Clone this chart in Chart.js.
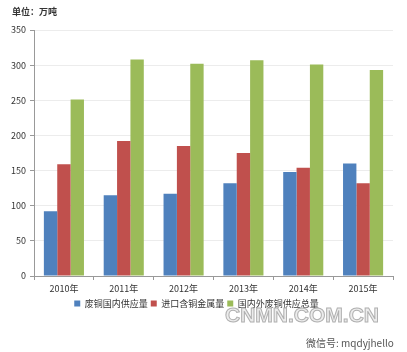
<!DOCTYPE html>
<html>
<head>
<meta charset="utf-8">
<script src="https://cdn.jsdelivr.net/npm/chart.js@4"></script>
<style>
  body { margin: 0; background: #fff; }
  #wrap { position: relative; width: 407px; height: 352px; font-family: "Noto Sans CJK SC", sans-serif; }
  #unit { position: absolute; left: 12px; top: 5px; font-size: 9px; color: #333; font-weight: bold; }
  #wm1 { position: absolute; left: 225px; top: 303px; font-size: 21px; color: #ececec; font-family: "Liberation Sans", sans-serif; font-weight: bold;
         -webkit-text-stroke: 1px #b0b0b0; }
  #wm2 { position: absolute; left: 306px; top: 335px; font-size: 10px; color: #555; }
</style>
</head>
<body>
<div id="wrap">
  <canvas id="chart" width="407" height="352"></canvas>
  <div id="unit">单位：万吨</div>
  <div id="wm1">CNMN.COM.CN</div>
  <div id="wm2">微信号: mqdyjhello</div>
</div>
<script>
const years = ['2010年', '2011年', '2012年', '2013年', '2014年', '2015年'];
const domestic = [92, 115, 117, 132, 148, 160];
const imported = [159, 192, 185, 175, 154, 132];
const total = [251, 308, 302, 307, 301, 293];
const yTicks = [0, 50, 100, 150, 200, 250, 300, 350];

const ctx = document.getElementById('chart').getContext('2d');
new Chart(ctx, {
    type: 'bar',
    data: {
        labels: years,
        datasets: [
            { label: '废铜国内供应量', data: domestic, backgroundColor: '#4F81BD' },
            { label: '进口含铜金属量', data: imported, backgroundColor: '#C0504D' },
            { label: '国内外废铜供应总量', data: total, backgroundColor: '#9BBB59' }
        ]
    },
    options: {
        responsive: false,
        animation: false,
        layout: { padding: { top: 30, right: 14, bottom: 34, left: 0 } },
        datasets: { bar: { barPercentage: 1, categoryPercentage: 0.67 } },
        plugins: {
            legend: {
                position: 'bottom',
                labels: { boxWidth: 6, boxHeight: 6, padding: 3, color: '#333',
                          font: { size: 9, family: 'Noto Sans CJK SC' } }
            },
            tooltip: { enabled: false }
        },
        scales: {
            x: {
                grid: { drawOnChartArea: false, drawTicks: true, tickLength: 4, offset: true, color: '#999' },
                border: { color: '#999' },
                ticks: { color: '#333', padding: 3, font: { size: 9, family: 'Noto Sans CJK SC' } },
                afterFit: s => { s.height = 20; }
            },
            y: {
                min: 0, max: 350,
                afterBuildTicks: s => { s.ticks = yTicks.map(v => ({ value: v })); },
                grid: { color: '#ececec', tickLength: 4, tickColor: '#999' },
                border: { color: '#999' },
                ticks: { color: '#333', padding: 4, font: { size: 9, family: 'Noto Sans CJK SC' } },
                afterFit: s => { s.width = 34; }
            }
        }
    }
});
</script>
</body>
</html>
